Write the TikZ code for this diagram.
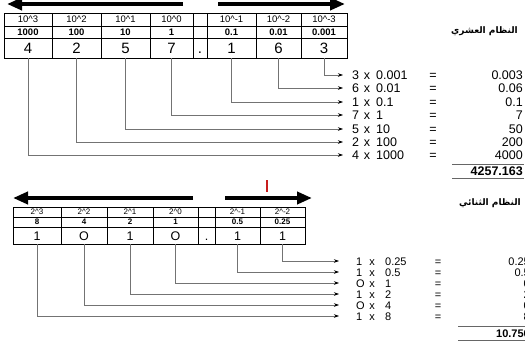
\documentclass[tikz,border=0pt]{standalone}
\usepackage{fontspec}
\setmainfont{Liberation Sans}
\newfontfamily\arabicfont[Script=Arabic]{DejaVu Sans}
\TeXXeTstate=1
\usetikzlibrary{arrows.meta}
\definecolor{markred}{RGB}{200,30,30}
\tikzset{
  cell/.style={draw, line width=0.6pt, anchor=north west, inner sep=0pt, outer sep=0pt},
  conn/.style={draw=black!55, line width=0.6pt, -{Stealth[length=5pt,width=3.5pt,color=black]}},
  bigarrow/.style={line width=4pt, -{Triangle[length=15pt,width=12pt]}},
  ftop/.style={font=\fontsize{12.5}{14}\selectfont, inner sep=0pt, text height=9pt, text depth=0pt},
  fbot/.style={font=\fontsize{11}{13}\selectfont, inner sep=0pt, text height=8pt, text depth=0pt},
  sumrule/.style={draw=black!60, line width=0.8pt},
  arab/.style={font=\arabicfont\bfseries\fontsize{9}{11}\selectfont, inner sep=0pt},
}
\begin{document}
\begin{tikzpicture}[x=1pt, y=-1pt]
  % bounding box
  \useasboundingbox (0,0) rectangle (525,343);

  % decimal system: direction arrows
  \draw[bigarrow] (183,4) -- (7,4);
  \draw[bigarrow] (218,4) -- (345,4);
  \node[arab, anchor=east] (lbldec) at (518,31) {\arabicfont\beginR النظام العشري\endR};

  % decimal table
  \foreach \n/\a/\b/\e/\v/\d in {3/4/52/3/1000/4, 2/52/101/2/100/2, 1/101/150/1/10/5, 0/150/193/0/1/7,
      m1/207/256/-1/0.1/1, m2/256/301/-2/0.01/6, m3/301/347/-3/0.001/3}{
    \pgfmathsetmacro\w{\b-\a}
    \node[cell, minimum width=\w pt, minimum height=13pt, font=\fontsize{9.5}{11}\selectfont] at (\a,13) {10\textasciicircum\e};
    \node[cell, minimum width=\w pt, minimum height=12pt, font=\fontsize{9.5}{11}\selectfont\bfseries] at (\a,26) {\v};
    \node[cell, minimum width=\w pt, minimum height=20pt, text height=10.7pt, text depth=0pt,
      font=\fontsize{15}{17}\selectfont] (t\n) at (\a,38) {\d};
  }
  \node[cell, minimum width=14pt, minimum height=13pt] at (193,13) {};
  \node[cell, minimum width=14pt, minimum height=12pt] at (193,26) {};
  \node[cell, minimum width=14pt, minimum height=20pt, text height=10.7pt, text depth=0pt,
    font=\fontsize{15}{17}\selectfont] (tdot) at (193,38) {.};

  % decimal sum
  \foreach \n/\y/\d/\m/\r in {m3/75/3/0.001/0.003, m2/88/6/0.01/0.06, m1/102/1/0.1/0.1, 0/115/7/1/7,
      1/129/5/10/50, 2/142/2/100/200, 3/155/4/1000/4000}{
    \node[ftop, anchor=west] (ft\n) at (352,\y) {\d};
    \node[ftop] at (367,\y) {x};
    \node[ftop, anchor=west] at (376,\y) {\m};
    \node[ftop] at (433,\y) {=};
    \node[ftop, anchor=east] at (523,\y) {\r};
    \draw[conn] (t\n.south) |- ([xshift=-9pt]ft\n.west);
  }
  \draw[sumrule] (452,164) -- (524,164);
  \node[ftop, font=\fontsize{12.5}{14}\selectfont\bfseries, anchor=east] (totdec) at (523,171) {4257.163};
  \draw[sumrule] (452,178) -- (524,178);

  % red mark
  \draw[markred, line width=1.3pt] (267,180) -- (267,192);

  % binary system: direction arrows
  \draw[bigarrow] (193,198) -- (13,198);
  \draw[bigarrow] (225,198) -- (312,198);
  \node[arab, anchor=east] (lblbin) at (521,203) {\arabicfont\beginR النظام الثنائي\endR};

  % binary table
  \foreach \n/\a/\b/\e/\v/\d in {3/13/61/3/8/1, 2/61/107/2/4/O, 1/107/153/1/2/1, 0/153/198/0/1/O,
      m1/215/260/-1/0.5/1, m2/260/305/-2/0.25/1}{
    \pgfmathsetmacro\w{\b-\a}
    \node[cell, minimum width=\w pt, minimum height=10pt, font=\fontsize{8}{9}\selectfont] at (\a,207) {2\textasciicircum\e};
    \node[cell, minimum width=\w pt, minimum height=10pt, font=\fontsize{8}{9}\selectfont\bfseries] at (\a,217) {\v};
    \node[cell, minimum width=\w pt, minimum height=17pt, text height=9pt, text depth=0pt,
      font=\fontsize{12.5}{14}\selectfont] (b\n) at (\a,227) {\d};
  }
  \node[cell, minimum width=17pt, minimum height=10pt] at (198,207) {};
  \node[cell, minimum width=17pt, minimum height=10pt] at (198,217) {};
  \node[cell, minimum width=17pt, minimum height=17pt, text height=9pt, text depth=0pt,
    font=\fontsize{12.5}{14}\selectfont] (bdot) at (198,227) {.};

  % binary sum
  \foreach \n/\y/\d/\m/\r in {m2/261/1/0.25/0.25, m1/272/1/0.5/0.5, 0/283/O/1/0,
      1/294/1/2/2, 2/305/O/4/0, 3/316/1/8/8}{
    \node[fbot, anchor=west] (fb\n) at (356,\y) {\d};
    \node[fbot] at (372,\y) {x};
    \node[fbot, anchor=west] at (385,\y) {\m};
    \node[fbot] at (438,\y) {=};
    \node[fbot, anchor=east] at (530,\y) {\r};
    \draw[conn] (b\n.south) |- ([xshift=-17pt]fb\n.west);
  }
  \draw[sumrule] (458,326) -- (531,326);
  \node[fbot, font=\fontsize{11}{13}\selectfont\bfseries, anchor=east] (totbin) at (530,333) {10.750};
  \draw[sumrule] (458,340) -- (531,340);
\end{tikzpicture}
\end{document}
